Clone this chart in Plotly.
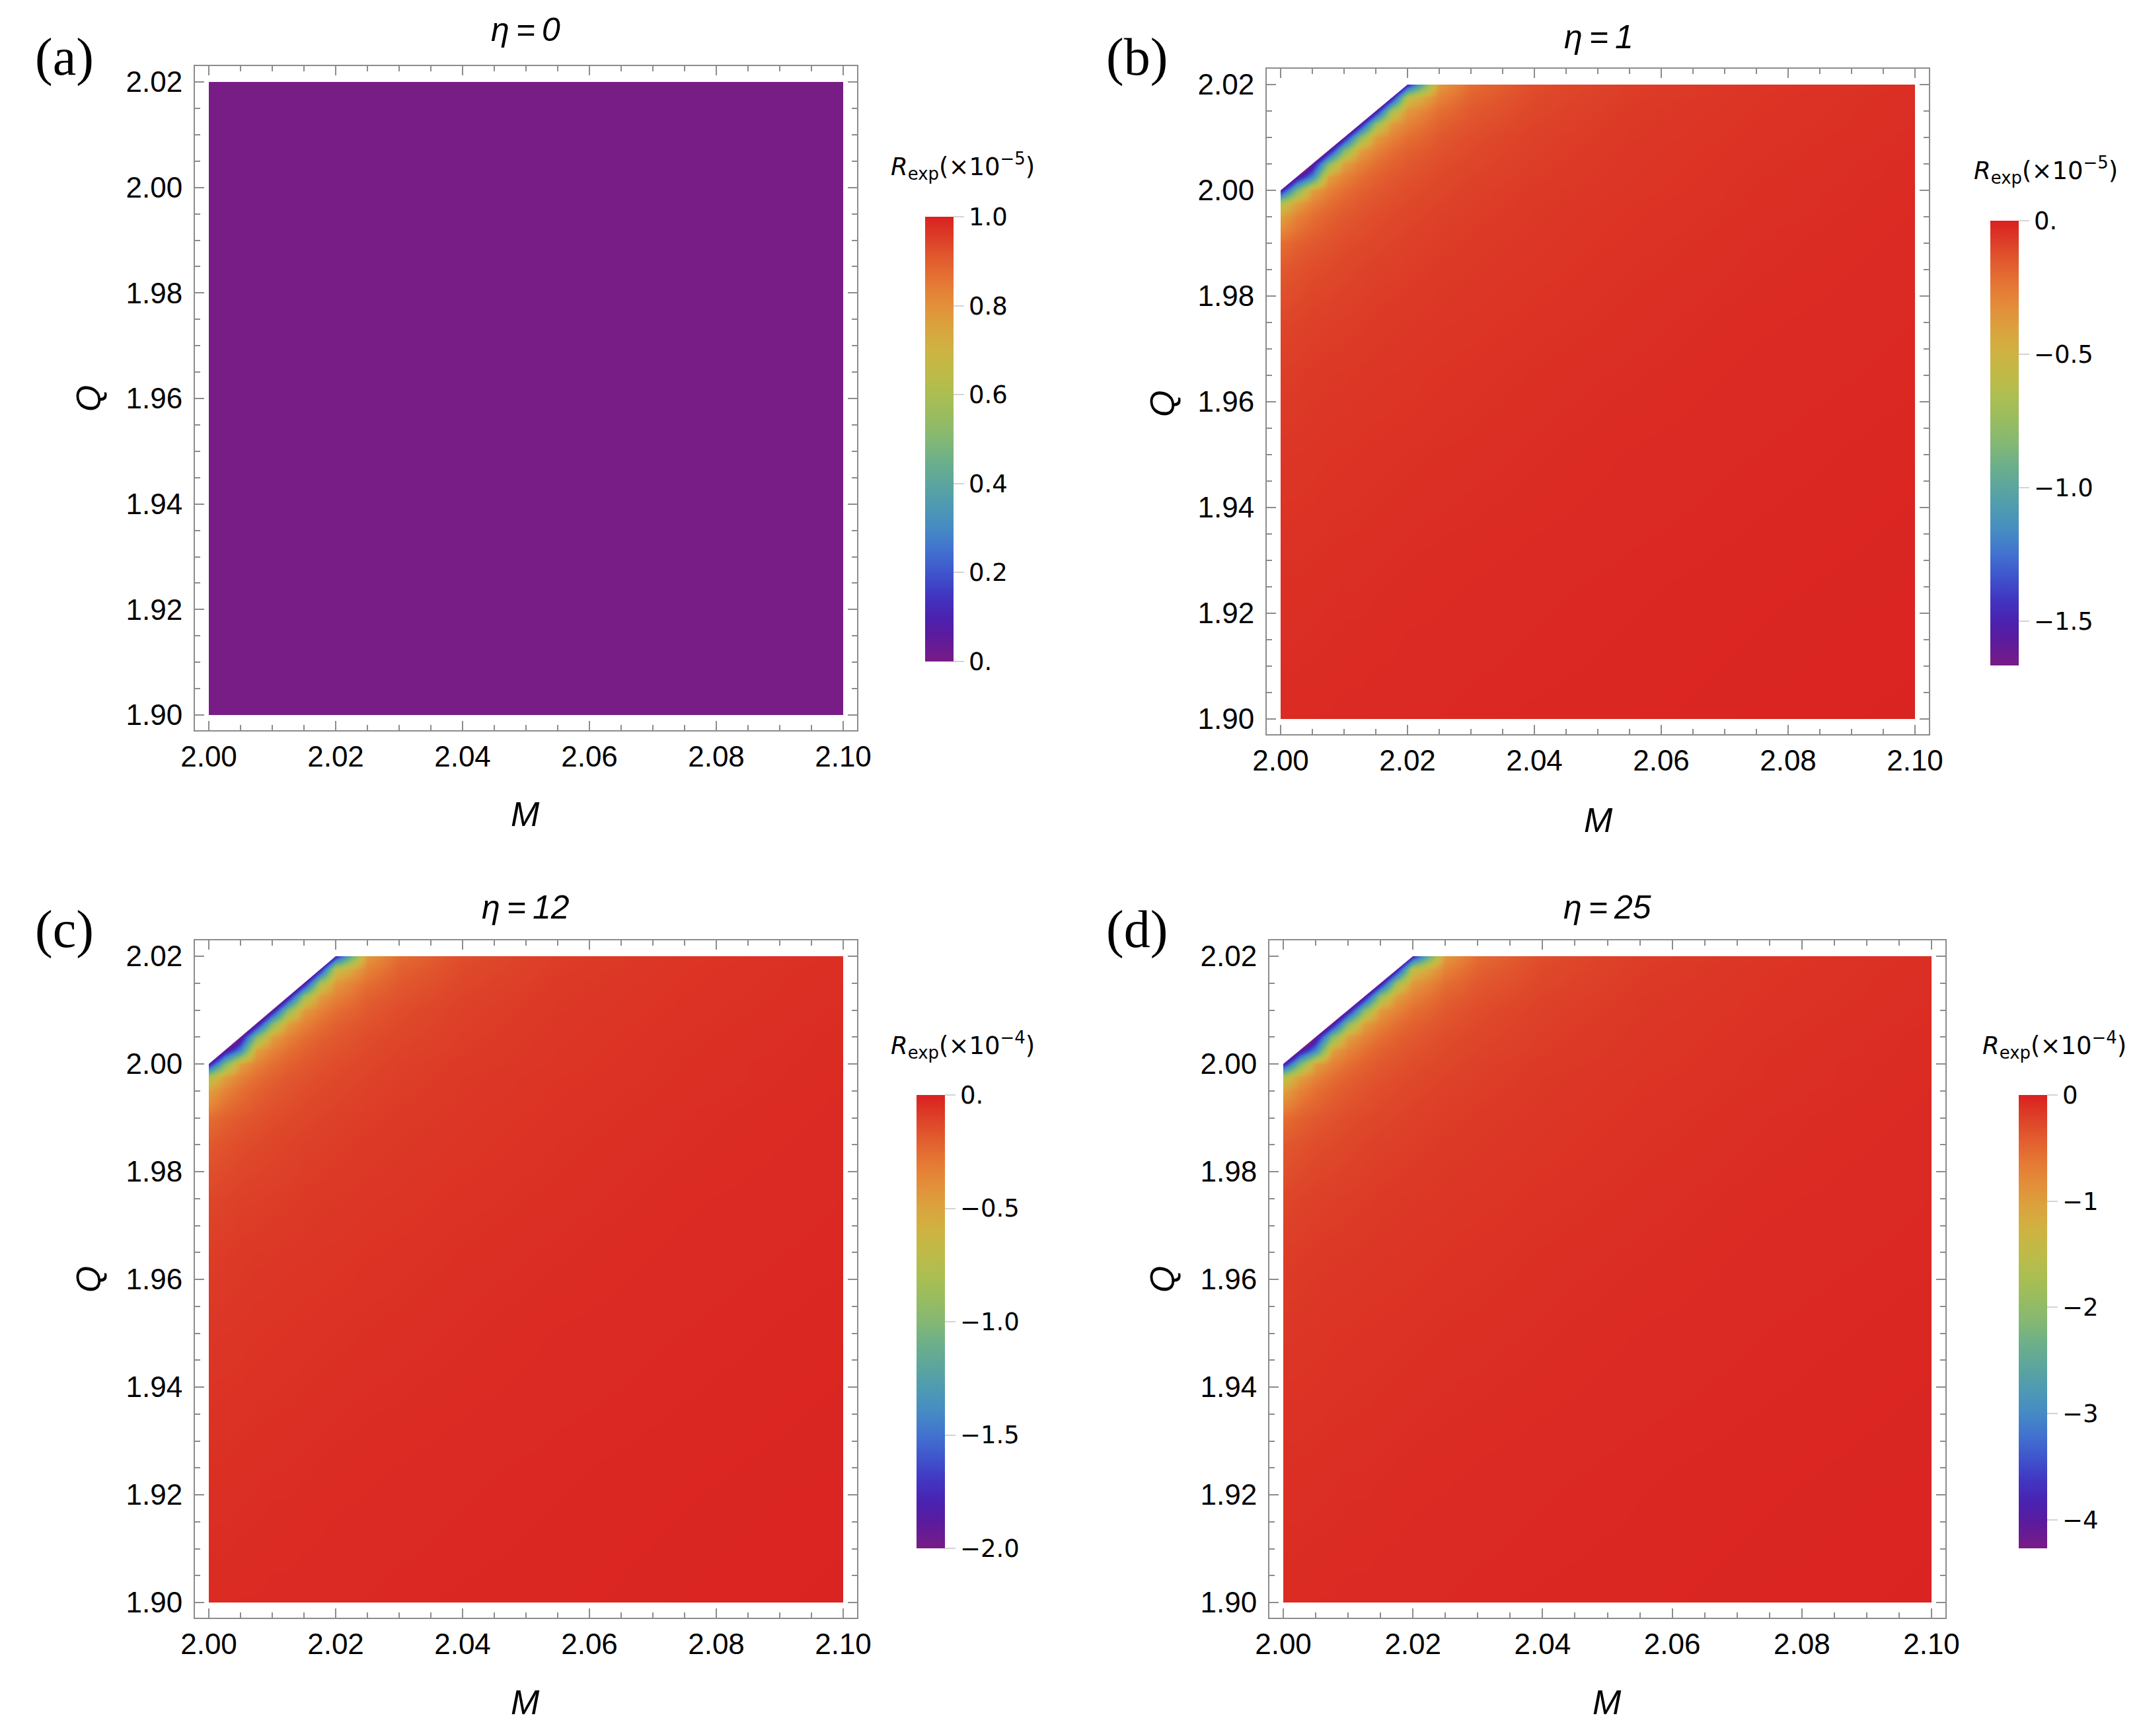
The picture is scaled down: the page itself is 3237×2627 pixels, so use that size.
import plotly.graph_objects as go

W, H = 3237, 2627
BODY = 8  # default page margin around the plot div

# ---- data -------------------------------------------------------------
# sampling nodes of the (M, Q) plane for panels (b)-(d)
M_nodes = [2.000, 2.0025, 2.005, 2.0075, 2.010, 2.0125, 2.015, 2.0175, 2.020,
           2.025, 2.030, 2.040, 2.055, 2.075, 2.100]
Q_nodes = [1.900, 1.925, 1.950, 1.965, 1.975, 1.985, 1.990, 1.995, 1.9975,
           2.000, 2.0025, 2.005, 2.0075, 2.010, 2.0125, 2.015, 2.0175, 2.020]

# colour read off each node, as position on the panel's colour bar
# (0 = bottom/purple, 1 = top/red); rows go up in Q.
# Q > M has no data (negative = hidden under the blank corner).
R_frac = [
    [0.984, 0.984, 0.985, 0.985, 0.986, 0.986, 0.987, 0.987, 0.988, 0.988, 0.989, 0.990, 0.991, 0.993, 0.995],
    [0.977, 0.977, 0.978, 0.979, 0.980, 0.980, 0.981, 0.982, 0.983, 0.984, 0.985, 0.987, 0.989, 0.991, 0.993],
    [0.966, 0.967, 0.968, 0.970, 0.971, 0.972, 0.973, 0.974, 0.975, 0.977, 0.978, 0.981, 0.985, 0.988, 0.991],
    [0.955, 0.957, 0.960, 0.962, 0.963, 0.965, 0.966, 0.967, 0.968, 0.971, 0.973, 0.977, 0.981, 0.986, 0.989],
    [0.940, 0.945, 0.950, 0.952, 0.955, 0.957, 0.960, 0.962, 0.963, 0.966, 0.968, 0.973, 0.978, 0.984, 0.988],
    [0.910, 0.920, 0.930, 0.935, 0.940, 0.945, 0.950, 0.952, 0.955, 0.960, 0.963, 0.968, 0.975, 0.981, 0.987],
    [0.870, 0.895, 0.910, 0.920, 0.930, 0.935, 0.940, 0.945, 0.950, 0.955, 0.960, 0.966, 0.973, 0.980, 0.986],
    [0.760, 0.830, 0.870, 0.895, 0.910, 0.920, 0.930, 0.935, 0.940, 0.950, 0.955, 0.963, 0.971, 0.978, 0.985],
    [0.620, 0.760, 0.830, 0.870, 0.895, 0.910, 0.920, 0.930, 0.935, 0.945, 0.952, 0.962, 0.970, 0.977, 0.984],
    [0.080, 0.480, 0.760, 0.830, 0.870, 0.895, 0.910, 0.920, 0.930, 0.940, 0.950, 0.960, 0.968, 0.977, 0.984],
    [-0.40, 0.050, 0.300, 0.760, 0.830, 0.870, 0.895, 0.910, 0.920, 0.935, 0.945, 0.957, 0.967, 0.976, 0.983],
    [-0.60, -0.40, 0.030, 0.500, 0.760, 0.830, 0.870, 0.895, 0.910, 0.930, 0.940, 0.955, 0.966, 0.975, 0.983],
    [-0.60, -0.60, -0.40, 0.040, 0.500, 0.760, 0.830, 0.870, 0.895, 0.920, 0.935, 0.952, 0.965, 0.974, 0.982],
    [-0.60, -0.60, -0.60, -0.40, 0.060, 0.520, 0.770, 0.830, 0.870, 0.910, 0.930, 0.950, 0.963, 0.973, 0.981],
    [-0.60, -0.60, -0.60, -0.60, -0.40, 0.060, 0.550, 0.770, 0.830, 0.895, 0.920, 0.945, 0.962, 0.972, 0.980],
    [-0.60, -0.60, -0.60, -0.60, -0.60, -0.40, 0.060, 0.580, 0.780, 0.870, 0.910, 0.940, 0.960, 0.971, 0.980],
    [-0.60, -0.60, -0.60, -0.60, -0.60, -0.60, -0.40, 0.080, 0.650, 0.830, 0.895, 0.935, 0.957, 0.970, 0.979],
    [-0.60, -0.60, -0.60, -0.60, -0.60, -0.60, -0.60, -0.40, 0.100, 0.780, 0.875, 0.930, 0.955, 0.968, 0.978],
]

# panel (a), eta = 0: R_exp vanishes everywhere
M_a = [2.00, 2.10]
Q_a = [1.90, 2.02]
R_a = [[0.0, 0.0], [0.0, 0.0]]

eta = ["0", "1", "12", "25"]
panel_tag = ["(a)", "(b)", "(c)", "(d)"]
scale_exp = ["5", "5", "4", "4"]
bar_lo = [0.0, -1.667, -2.0, -4.27]
bar_hi = [1.0, 0.0, 0.0, 0.0]
bar_ticks = [
    [0.0, 0.2, 0.4, 0.6, 0.8, 1.0],
    [0.0, -0.5, -1.0, -1.5],
    [0.0, -0.5, -1.0, -1.5, -2.0],
    [0, -1, -2, -3, -4],
]
bar_labels = [
    ["0.", "0.2", "0.4", "0.6", "0.8", "1.0"],
    ["0.", "\u22120.5", "\u22121.0", "\u22121.5"],
    ["0.", "\u22120.5", "\u22121.0", "\u22121.5", "\u22122.0"],
    ["0", "\u22121", "\u22122", "\u22123", "\u22124"],
]

# ---- layout geometry (screen pixels) ------------------------------------
# data box: x of M=2.00, x of M=2.10, y of Q=2.02, y of Q=1.90
data_box = [(316, 1276, 124, 1082), (1938, 2898, 128, 1088),
            (316, 1276, 1447, 2425), (1942, 2923, 1447, 2425)]
pad_x, pad_top, pad_bot = 21, 24, 23
# colour bar: left, top, bottom
bar_box = [(1400, 328, 1001), (3012, 334, 1007),
           (1387, 1657, 2343), (3055, 1657, 2343)]
title_pos = [(795, 45), (2419, 56), (795, 1373), (2432, 1373)]
tag_pos = [(97, 87), (1720, 87), (97, 1406), (1720, 1406)]
mlab_pos = [(795, 1232), (2419, 1241), (795, 2576), (2432, 2576)]
qlab_pos = [(134, 603), (1759, 611), (134, 1936), (1759, 1936)]
bartitle_pos = [(1457, 252), (3096, 258), (1457, 1581), (3109, 1581)]

rainbow = [
    [0.00, "#781C86"], [0.06, "#5A1B9E"], [0.10, "#4A22B0"], [0.15, "#4136C2"],
    [0.20, "#3F55CC"], [0.25, "#4272CF"], [0.30, "#468BC4"], [0.35, "#4E9AB2"],
    [0.40, "#5CA59E"], [0.45, "#6CAF8A"], [0.50, "#84B873"], [0.55, "#98BC60"],
    [0.60, "#ABBE52"], [0.65, "#BEBB48"], [0.70, "#CEB342"], [0.75, "#DAA43E"],
    [0.80, "#E2903A"], [0.85, "#E57934"], [0.90, "#E25E2F"], [0.95, "#DD4028"],
    [1.00, "#DA2121"],
]

FRAME = "#8c8c8c"
TICKFONT = dict(family="Liberation Sans, Arial, sans-serif", size=44, color="black")
BARFONT = dict(family="DejaVu Sans, Verdana, sans-serif", size=37, color="black")

FW, FH = W - BODY, H - BODY


def fx(px):
    return (px - BODY) / FW


def fy(py):
    return 1 - (py - BODY) / FH


fig = go.Figure()
layout = dict(
    width=FW, height=FH,
    margin=dict(l=0, r=0, t=0, b=0, autoexpand=False),
    paper_bgcolor="white", plot_bgcolor="white",
    showlegend=False,
)
annotations = []

for k in range(4):
    x0, x1, yt, yb = data_box[k]
    fx0, fx1, ft, fb = x0 - pad_x, x1 + pad_x, yt - pad_top, yb + pad_bot
    m_span = M_a[1] - M_a[0]
    q_span = Q_a[1] - Q_a[0]
    m_lo = M_a[0] - (x0 - fx0) / (x1 - x0) * m_span
    m_hi = M_a[1] + (fx1 - x1) / (x1 - x0) * m_span
    q_lo = Q_a[0] - (fb - yb) / (yb - yt) * q_span
    q_hi = Q_a[1] + (yt - ft) / (yb - yt) * q_span

    nf, nd = 2 * k + 1, 2 * k + 2  # frame axes, data axes
    frame_common = dict(
        showline=True, mirror="allticks", linecolor=FRAME, linewidth=2,
        ticks="inside", ticklen=14, tickwidth=2, tickcolor=FRAME,
        showgrid=False, zeroline=False, fixedrange=True, automargin=False,
        tickfont=TICKFONT, tickformat=".2f", dtick=0.02,
    )
    layout[f"xaxis{nf}"] = dict(
        frame_common, domain=[fx(fx0), fx(fx1)], range=[m_lo, m_hi],
        anchor=f"y{nf}", tick0=2.00, ticklabelstandoff=0,
        minor=dict(ticks="inside", ticklen=8, tickwidth=2, tickcolor=FRAME,
                   dtick=0.005, tick0=2.00, showgrid=False),
    )
    layout[f"yaxis{nf}"] = dict(
        frame_common, domain=[fy(fb), fy(ft)], range=[q_lo, q_hi],
        anchor=f"x{nf}", tick0=1.90, ticklabelstandoff=8,
        minor=dict(ticks="inside", ticklen=8, tickwidth=2, tickcolor=FRAME,
                   dtick=0.005, tick0=1.90, showgrid=False),
    )
    layout[f"xaxis{nd}"] = dict(
        domain=[fx(x0), fx(x1)], range=[M_a[0], M_a[1]], anchor=f"y{nd}",
        visible=False, fixedrange=True, automargin=False,
    )
    layout[f"yaxis{nd}"] = dict(
        domain=[fy(yb), fy(yt)], range=[Q_a[0], Q_a[1]], anchor=f"x{nd}",
        visible=False, fixedrange=True, automargin=False,
    )

    fig.add_trace(go.Scatter(x=[], y=[], xaxis=f"x{nf}", yaxis=f"y{nf}",
                             hoverinfo="skip"))

    if k == 0:
        xs, ys, zs = M_a, Q_a, R_a
    else:
        xs, ys = M_nodes, Q_nodes
        zs = [[bar_lo[k] + f * (bar_hi[k] - bar_lo[k]) for f in row] for row in R_frac]

    bl, bt, bb = bar_box[k]
    fig.add_trace(go.Heatmap(
        x=xs, y=ys, z=zs, zsmooth="best",
        colorscale=rainbow, zmin=bar_lo[k], zmax=bar_hi[k],
        xaxis=f"x{nd}", yaxis=f"y{nd}", hoverinfo="skip",
        colorbar=dict(
            x=fx(bl), xanchor="left", y=fy(bt), yanchor="top",
            lenmode="pixels", len=bb - bt, thicknessmode="pixels", thickness=43,
            xpad=0, ypad=0, outlinewidth=0,
            ticks="outside", ticklen=16, tickwidth=2, tickcolor="#d4d4d4",
            tickvals=bar_ticks[k], ticktext=bar_labels[k], tickfont=BARFONT,
        ),
    ))

    if k > 0:
        # region Q > M has no data: left blank
        e = 0.01
        corner_m, corner_q = M_nodes[0], Q_nodes[-1]
        fig.add_trace(go.Scatter(
            x=[corner_m - e, corner_q + e, corner_m - e],
            y=[corner_m - e, corner_q + e, corner_q + e],
            fill="toself", fillcolor="white", mode="lines",
            line=dict(width=0, color="white"),
            xaxis=f"x{nd}", yaxis=f"y{nd}", hoverinfo="skip",
        ))

    tx, ty = title_pos[k]
    annotations.append(dict(
        text=f"<i>\u03b7\u2009=\u2009{eta[k]}</i>", x=fx(tx), y=fy(ty),
        font=dict(family="Liberation Sans, Arial, sans-serif", size=50, color="black"),
    ))
    px_, py_ = tag_pos[k]
    annotations.append(dict(
        text=panel_tag[k], x=fx(px_), y=fy(py_),
        font=dict(family="Liberation Serif, Times New Roman, serif", size=80, color="black"),
    ))
    mx, my = mlab_pos[k]
    annotations.append(dict(
        text="<i>M</i>", x=fx(mx), y=fy(my),
        font=dict(family="Liberation Sans, Arial, sans-serif", size=52, color="black"),
    ))
    qx, qy = qlab_pos[k]
    annotations.append(dict(
        text="<i>Q</i>", x=fx(qx), y=fy(qy), textangle=-90,
        font=dict(family="Liberation Sans, Arial, sans-serif", size=52, color="black"),
    ))
    cx, cy = bartitle_pos[k]
    annotations.append(dict(
        text=f"<i>R</i><sub>exp</sub>(\u00d710<sup>\u2212{scale_exp[k]}</sup>)",
        x=fx(cx), y=fy(cy),
        font=dict(family="DejaVu Sans, Verdana, sans-serif", size=37, color="black"),
    ))

for a in annotations:
    a.update(xref="paper", yref="paper", showarrow=False,
             xanchor="center", yanchor="middle")

layout["annotations"] = annotations
fig.update_layout(**layout)

fig.write_html("out.html", config={"displayModeBar": False})
